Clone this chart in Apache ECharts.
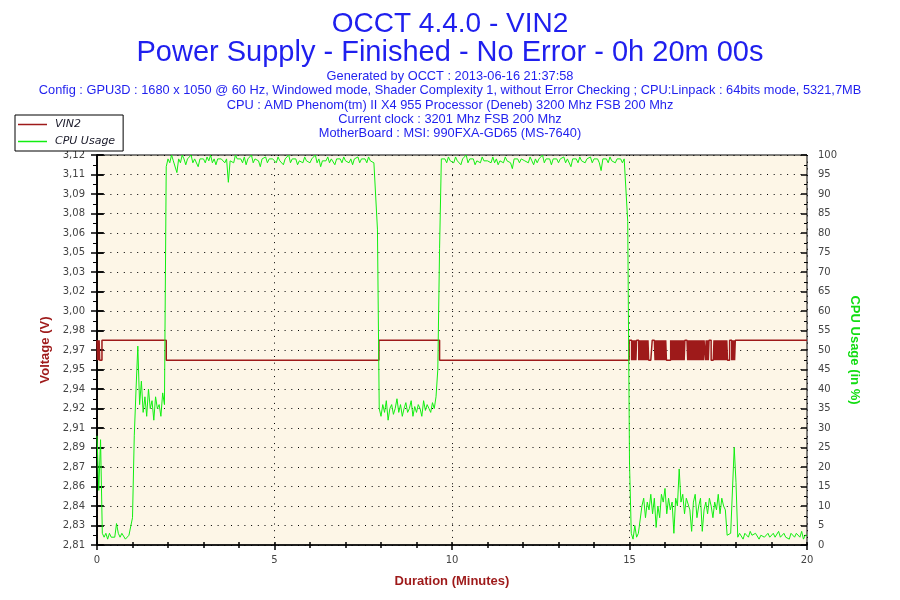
<!DOCTYPE html>
<html><head><meta charset="utf-8">
<script src="https://cdn.jsdelivr.net/npm/echarts@6/dist/echarts.min.js"></script>
<style>html,body{margin:0;padding:0;background:#fff}#c{width:900px;height:600px}</style>
</head><body><div id="c"></div>
<script>
const titleLines = ['OCCT 4.4.0 - VIN2', 'Power Supply - Finished - No Error - 0h 20m 00s'];
const infoLines = [
  'Generated by OCCT : 2013-06-16 21:37:58',
  'Config : GPU3D : 1680 x 1050 @ 60 Hz, Windowed mode, Shader Complexity 1, without Error Checking ; CPU:Linpack : 64bits mode, 5321,7MB',
  'CPU : AMD Phenom(tm) II X4 955 Processor (Deneb) 3200 Mhz FSB 200 Mhz',
  'Current clock : 3201 Mhz FSB 200 Mhz',
  'MotherBoard : MSI: 990FXA-GD65 (MS-7640)'
];
const seriesNames = ['VIN2', 'CPU Usage'];
const axisNames = { x: 'Duration (Minutes)', left: 'Voltage (V)', right: 'CPU Usage (in %)' };
const voltTickLabels = ['2,81','2,83','2,84','2,86','2,87','2,89','2,91','2,92','2,94','2,95','2,97',
  '2,98','3,00','3,02','3,03','3,05','3,06','3,08','3,09','3,11','3,12'];
const voltAxisMin = 2.81196, voltAxisMax = 3.1244;

// VIN2 levels (V)
const H = 2.976, L = 2.960;
const vinBreakTimes  = [0, 0.015, 0.03, 0.045, 0.06, 0.075, 0.14, 1.95, 7.94, 9.65, 14.99];
const vinBreakValues = [H, L, H, L, H, L, H, L, H, L, H];
const vinToggleStart = 15.0, vinToggleStep = 0.02;
const vinToggleValues = [
  H,H,H, L,H,L,H,L,H,L,H, H,H, L,H,L,H,L,H,L,H,L,H,L,H,L,H,L, L,L,L,L, H,H,H,H,
  L,H,L,H,L,H,L,H,L,H,L,H,L,H,L,H, L,L,L,L,L,L,
  H,L,H,L,H,L,H,L,H,L,H,L,H,L,H,L,H,L,H,L,H,H, H,H,
  L,H,L,H,L,H,L,H,L,H,L,H,L,H,L,H,L,H,L,H,L,H,L, H,H,
  L,H,L,H,L,H, H,H,L,L,L,L,
  H,L,H,L,H,L,H,L,H,L,H,L,H,L,H,L,H,L,H,L, L,L,H,H,H, L,H,L,H,L,H,H
];
const vinEndTime = 20, vinEndValue = H;

// CPU usage (%), one value every 0.05 minute from 0 to 20
const cpuStep = 0.05;
const cpuValues = [
  28,14,27,3,2,3,1.5,3,2,2.5,2,5.5,3,2,3,2.5,1.5,2,2.5,3,
  7,28,40,51,36,42,34,38,33,40,35,37,32,38,35,36,33,39,36,97,
  99,98,100,98.5,99,95.5,99,98,100,99,97.5,99,98.5,100,98,99,99.5,97,99,98.5,
  99,98,99.5,98.5,100,98,99,97.5,99,98.5,99,99.5,98,99,93,98.5,99,98,100,99,
  98.5,99,98,99.5,97.5,99,98.5,100,98,99,99,98.5,97,99,98.5,99.5,98,99,98.5,99,
  99,98,99.5,98.5,99,97.5,99,98.5,100,98,99,98.5,99,97.5,98.5,99,98,99.5,98.5,99,
  98,99,98.5,100,98,99,97,98.5,99,98.5,99.5,98,99,98.5,97.5,99,98.5,99,98,99.5,
  98.5,99,98,99,97.5,99,98.5,99.5,98,99,98.5,99,98,99.5,98.5,99,98,98.5,81,35,
  33,36,34,37,32,35,36,33.5,35,37.5,34,36,33,35,36.5,34,35,37,33,35.5,
  34,36,35,33,37,34.5,36,35,34,36.5,35,38,45,76,99,98.5,99,98,99.5,98.5,
  99,98,99.5,98.5,99,97.5,99,98.5,100,98,99,98.5,99,97.5,98.5,99,98,99.5,98.5,99,
  98.5,99,98,99.5,98,99,97.5,98.5,99,98,99.5,98.5,99,98,96.5,99,98.5,99,98,99,
  99,98.5,99,98,99.5,98.5,97.5,99,98,99,98.5,100,98,99,98.5,99,97.5,99,98.5,99,
  98,99,98.5,99.5,98,99,98.5,97,99,98.5,99,98,99.5,98.5,99,98,99,98.5,99.5,98,
  99,98.5,99,98,96,99,98.5,99,98,99.5,98.5,99,98,99,98.5,99,98,99,98.5,83,
  21,3,1.5,5,2,3,3.5,10,12,7,11,9,13,8,12,4.5,10,7,13,11,
  14.5,8,12,9,11,3,12,10,19.5,11,13,8,12,12.5,9,3.5,11,13,7,10,
  12,3.5,9,11,8,12,10,7,11,9,13,8,12,10,9,2.5,2,3,2.5,25,
  16,2,3,2.5,1.5,3,2.5,2,3.5,2.5,2,3,2.5,1.5,2.5,3,2,2.5,3,2,
  2.5,3,2,2.5,3.5,2,2.5,3,2,2.5,1.5,3,2.5,2,3,2.5,2,3.5,1.5,2.5,
  2.5
];

const vinData = vinBreakTimes.map((t, i) => [t, vinBreakValues[i]])
  .concat(vinToggleValues.map((v, i) => [+(vinToggleStart + i * vinToggleStep).toFixed(2), v]))
  .concat([[vinEndTime, vinEndValue]]);
const cpuData = cpuValues.map((v, i) => [+(i * cpuStep).toFixed(2), v]);

const blue = '#1f1fee', red = '#9e1a1a', green = '#11ee11', labelGray = '#444';
const dotted = { color: '#000', width: 1, type: [1, 5.7] };
const labelFont = { fontFamily: 'DejaVu Sans', fontSize: 10, color: labelGray };
const nameFont = { fontFamily: 'Liberation Sans', fontSize: 13, fontWeight: 'bold' };

const titles = [
  { text: titleLines[0], left: 'center', top: 5, textStyle: { fontFamily: 'Liberation Sans', fontSize: 28, fontWeight: 'normal', color: blue } },
  { text: titleLines[1], left: 'center', top: 33, textStyle: { fontFamily: 'Liberation Sans', fontSize: 29, fontWeight: 'normal', color: blue } }
];
infoLines.forEach((t, i) => titles.push({
  text: t, left: 'center', top: 70 + i * 14.3, padding: 0,
  textStyle: { fontFamily: 'Liberation Sans', fontSize: 12.8, fontWeight: 'normal', color: blue }
}));

const chart = echarts.init(document.getElementById('c'), null, { renderer: 'canvas' });
chart.setOption({
  animation: false,
  backgroundColor: '#fff',
  title: titles,
  legend: {
    data: seriesNames, orient: 'vertical', left: 15, top: 115,
    icon: 'rect', itemWidth: 29, itemHeight: 1.5, itemGap: 6,
    padding: [4, 8, 4, 3],
    backgroundColor: '#fff', borderColor: '#000', borderWidth: 1, borderRadius: 0,
    textStyle: { fontFamily: 'DejaVu Sans', fontSize: 11, fontStyle: 'italic', color: '#1a1a2a', padding: [0, 0, 0, 3] }
  },
  grid: { left: 97, right: 93, top: 155, bottom: 55, show: true, backgroundColor: '#FDF6E7', borderColor: '#000', borderWidth: 1 },
  xAxis: [{
    type: 'value', min: 0, max: 20, interval: 5,
    name: axisNames.x, nameLocation: 'middle', nameGap: 30,
    nameTextStyle: Object.assign({ color: red }, nameFont),
    axisLine: { lineStyle: { color: '#000', width: 1.5 } },
    axisTick: { length: 5, lineStyle: { color: '#000', width: 1.5 } },
    minorTick: { show: true, splitNumber: 5, length: 3, lineStyle: { color: '#000', width: 1.5 } },
    axisLabel: Object.assign({ margin: 10 }, labelFont),
    splitLine: { show: true, lineStyle: dotted }
  }, {
    type: 'value', min: 0, max: 20, interval: 5, position: 'bottom',
    axisLine: { show: false }, axisLabel: { show: false }, splitLine: { show: false },
    axisTick: { inside: true, length: 3, lineStyle: { color: '#000', width: 1.5 } },
    minorTick: { show: true, splitNumber: 5, length: 3, lineStyle: { color: '#000', width: 1.5 } }
  }],
  yAxis: [{
    type: 'value', position: 'left', min: 0, max: voltTickLabels.length - 1, interval: 1,
    name: axisNames.left, nameLocation: 'middle', nameGap: 34,
    nameTextStyle: Object.assign({ color: red }, nameFont),
    axisLine: { show: true, lineStyle: { color: '#000', width: 1.5 } },
    axisTick: { show: true, length: 6, lineStyle: { color: '#000', width: 1.5 } },
    minorTick: { show: true, splitNumber: 2, length: 4, lineStyle: { color: '#000', width: 1 } },
    axisLabel: Object.assign({ margin: 12, formatter: v => voltTickLabels[Math.round(v)] }, labelFont),
    splitLine: { show: true, lineStyle: dotted }
  }, {
    type: 'value', position: 'right', min: 0, max: 100, interval: 5,
    name: axisNames.right, nameLocation: 'middle', nameGap: 29, nameRotate: -90,
    nameTextStyle: Object.assign({ color: '#11dd11' }, nameFont),
    axisLine: { show: true, lineStyle: { color: '#000', width: 1.5 } },
    axisTick: { show: true, length: 7, lineStyle: { color: '#000', width: 1.5 } },
    axisLabel: Object.assign({ margin: 11 }, labelFont),
    splitLine: { show: false }
  }, {
    type: 'value', position: 'left', min: voltAxisMin, max: voltAxisMax, show: false
  }, {
    type: 'value', position: 'right', min: 0, max: 100, interval: 5,
    axisLine: { show: false }, axisLabel: { show: false }, splitLine: { show: false },
    axisTick: { show: true, inside: true, length: 6, lineStyle: { color: '#000', width: 1.5 } },
    minorTick: { show: true, splitNumber: 2, length: 3, lineStyle: { color: '#000', width: 1 } }
  }, {
    type: 'value', position: 'left', min: 0, max: voltTickLabels.length - 1, interval: 1,
    axisLine: { show: false }, axisLabel: { show: false }, splitLine: { show: false },
    axisTick: { show: true, inside: true, length: 6, lineStyle: { color: '#000', width: 1.5 } }
  }],
  series: [{
    name: seriesNames[0], type: 'line', xAxisIndex: 0, yAxisIndex: 2, data: vinData,
    step: 'end', symbol: 'none', lineStyle: { color: red, width: 1.5 }, itemStyle: { color: red }, z: 2
  }, {
    name: seriesNames[1], type: 'line', xAxisIndex: 0, yAxisIndex: 1, data: cpuData,
    symbol: 'none', lineStyle: { color: green, width: 1 }, itemStyle: { color: green }, z: 3
  }]
});
</script></body></html>
